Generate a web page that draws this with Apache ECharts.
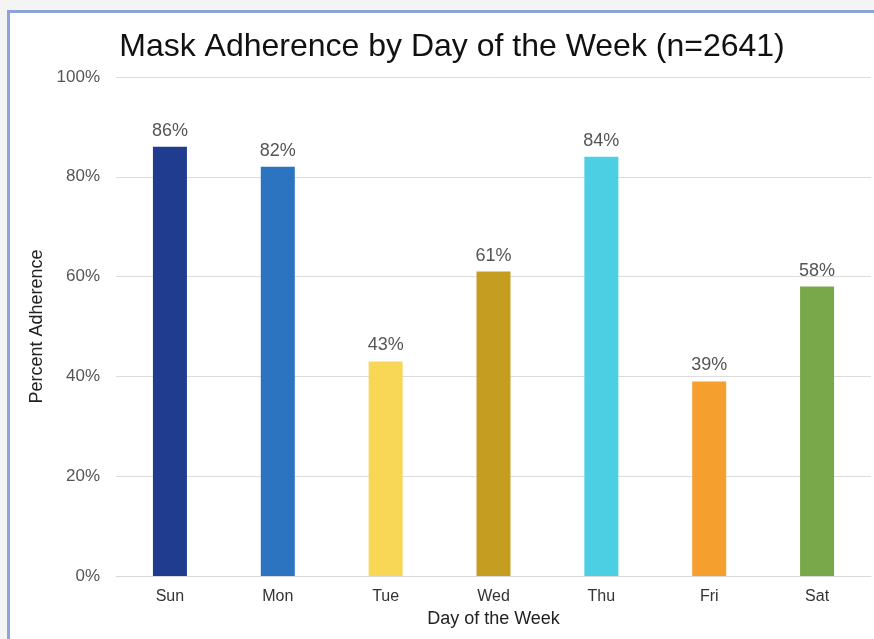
<!DOCTYPE html>
<html>
<head>
<meta charset="utf-8">
<script src="https://cdn.jsdelivr.net/npm/echarts@6/dist/echarts.min.js"></script>
<style>
  html, body { margin: 0; padding: 0; width: 874px; height: 639px; overflow: hidden; background: #f4f4f4; }
  #frame { position: absolute; left: 7px; top: 10px; width: 880px; height: 640px; background: #ffffff;
           border-top: 3px solid #8ea4d4; border-left: 3px solid #8ea4d4; }
  #chart { position: absolute; left: 0; top: 0; width: 874px; height: 639px; }
</style>
</head>
<body>
<div id="frame"></div>
<div id="chart"></div>
<script>
// Share of observed people wearing masks, by day of the week
const days = ['Sun', 'Mon', 'Tue', 'Wed', 'Thu', 'Fri', 'Sat'];
const adherence = [86, 82, 43, 61, 84, 39, 58];
const dayColors = ['#1f3c8e', '#2c74c0', '#f7d755', '#c59d21', '#4dcfe3', '#f59f2f', '#79a84a'];
const yTicks = [0, 20, 40, 60, 80, 100];

const font = '"Liberation Sans", Arial, Helvetica, sans-serif';
const chart = echarts.init(document.getElementById('chart'), null, { renderer: 'canvas' });

chart.setOption({
  backgroundColor: 'transparent',
  animation: false,
  title: {
    text: 'Mask Adherence by Day of the Week (n=2641)',
    left: 447, top: 26, textAlign: 'center',
    textStyle: { fontFamily: font, fontSize: 32, fontWeight: 'normal', color: '#111' }
  },
  grid: { left: 116, right: 3, top: 77, bottom: 63, containLabel: false },
  xAxis: {
    type: 'category',
    data: days,
    name: 'Day of the Week',
    nameLocation: 'middle',
    nameGap: 34,
    nameTextStyle: { fontFamily: font, fontSize: 18, color: '#222' },
    axisLine: { lineStyle: { color: '#d9d9d9', width: 1 } },
    axisTick: { show: false },
    axisLabel: { fontFamily: font, fontSize: 16, color: '#333', margin: 13 }
  },
  yAxis: {
    type: 'value',
    min: yTicks[0], max: yTicks[yTicks.length - 1], interval: 20,
    name: 'Percent Adherence',
    nameLocation: 'middle',
    nameGap: 68,
    nameRotate: 90,
    nameTextStyle: { fontFamily: font, fontSize: 18, color: '#222' },
    axisLine: { show: false },
    axisTick: { show: false },
    splitLine: { lineStyle: { color: '#dcdcdc', width: 1 } },
    axisLabel: { fontFamily: font, fontSize: 17, color: '#555', margin: 16, formatter: v => v + '%' }
  },
  series: [{
    type: 'bar',
    barWidth: 34,
    data: adherence.map((v, i) => ({ value: v, itemStyle: { color: dayColors[i] } })),
    label: {
      show: true, position: 'top', distance: 7,
      fontFamily: font, fontSize: 18, color: '#555',
      formatter: p => p.value + '%'
    }
  }]
});
</script>
</body>
</html>
